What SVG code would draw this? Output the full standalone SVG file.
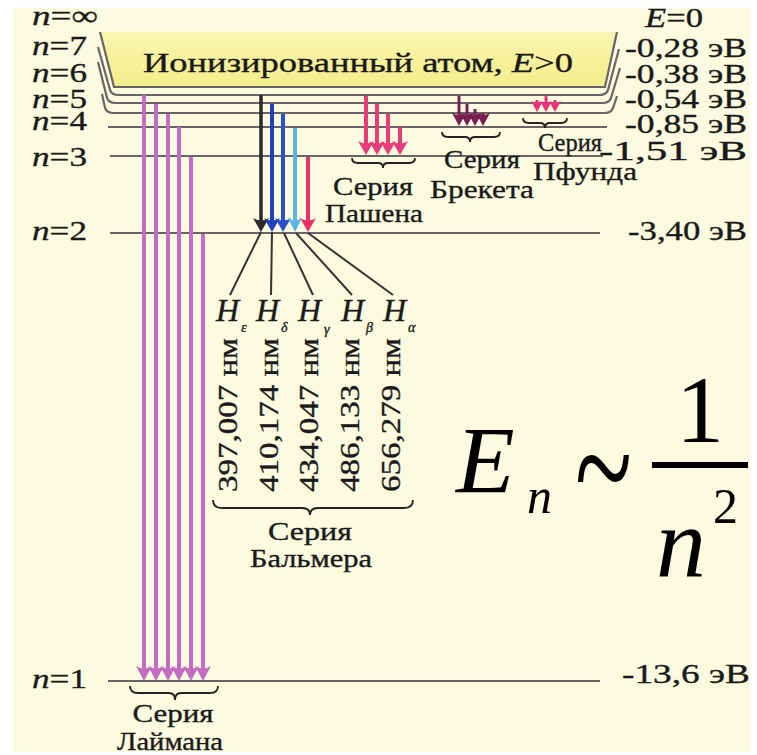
<svg xmlns="http://www.w3.org/2000/svg" width="757" height="755" viewBox="0 0 757 755">
<style>
.t{font-family:"Liberation Serif","Times New Roman",serif;fill:#1a1a1a;stroke:#1a1a1a;stroke-width:0.35}
.lvl{fill:none;stroke:#666;stroke-width:2.2}
.br{fill:none;stroke:#222;stroke-width:1.8}
.ptr{stroke:#333;stroke-width:2;fill:none}
.ly{stroke:#c46cc4;stroke-width:4;fill:none}
</style>
<defs>
<linearGradient id="ban" x1="0" y1="0" x2="0" y2="1">
<stop offset="0" stop-color="#faf6b0"/><stop offset="1" stop-color="#f5ed8a"/>
</linearGradient>
<marker id="mLy" markerUnits="userSpaceOnUse" viewBox="0 0 16 15" refX="8" refY="6" markerWidth="16" markerHeight="15"><path d="M0,0 Q8,5 16,0 L8,15 z" fill="#c46cc4"/></marker>
<marker id="mK" markerUnits="userSpaceOnUse" viewBox="0 0 16 14" refX="8" refY="6" markerWidth="16" markerHeight="14"><path d="M0,0 Q8,5 16,0 L8,14 z" fill="#2a2a2a"/></marker>
<marker id="mB1" markerUnits="userSpaceOnUse" viewBox="0 0 16 14" refX="8" refY="6" markerWidth="16" markerHeight="14"><path d="M0,0 Q8,5 16,0 L8,14 z" fill="#2040c0"/></marker>
<marker id="mB2" markerUnits="userSpaceOnUse" viewBox="0 0 16 14" refX="8" refY="6" markerWidth="16" markerHeight="14"><path d="M0,0 Q8,5 16,0 L8,14 z" fill="#2850c8"/></marker>
<marker id="mLb" markerUnits="userSpaceOnUse" viewBox="0 0 14 14" refX="7" refY="6" markerWidth="14" markerHeight="14"><path d="M0,0 Q7,5 14,0 L7,14 z" fill="#5ab4e6"/></marker>
<marker id="mR" markerUnits="userSpaceOnUse" viewBox="0 0 16 14" refX="8" refY="6" markerWidth="16" markerHeight="14"><path d="M0,0 Q8,5 16,0 L8,14 z" fill="#e8306a"/></marker>
<marker id="mP" markerUnits="userSpaceOnUse" viewBox="0 0 16 14" refX="8" refY="6" markerWidth="16" markerHeight="14"><path d="M0,0 Q8,5 16,0 L8,14 z" fill="#e83c78"/></marker>
<marker id="mBr" markerUnits="userSpaceOnUse" viewBox="0 0 14 13" refX="7" refY="5" markerWidth="14" markerHeight="13"><path d="M0,0 Q7,4 14,0 L7,13 z" fill="#7a2050"/></marker>
<marker id="mPf" markerUnits="userSpaceOnUse" viewBox="0 0 12 11" refX="6" refY="4" markerWidth="12" markerHeight="11"><path d="M0,0 Q6,4 12,0 L6,11 z" fill="#f0307a"/></marker>
</defs>

<rect width="757" height="755" fill="#ffffff"/>
<rect x="13" y="8" width="737" height="744" fill="#fcfbdf"/>

<g id="banner">
<path d="M100,32 H617 L605,87 H114 Z" fill="url(#ban)"/>
<path d="M100,32 L114,87 H605 L617,32" class="lvl"/>
<text class="t" x="143" y="72" font-size="28" textLength="430" lengthAdjust="spacingAndGlyphs">Ионизированный атом, <tspan font-style="italic">E</tspan>&gt;0</text>
</g>

<g id="levels">
<path class="lvl" d="M98,47 L110,90 Q112,95 118,95 H600 Q606,95 608,90 L619,49"/>
<path class="lvl" d="M98,62 L107,98 Q109,103 115,103 H603 Q609,103 611,98 L620,68"/>
<path class="lvl" d="M102,94 L105,108 Q107,113 113,113 H605 Q611,113 613,108 L617,96"/>
<path class="lvl" d="M108,127 H607"/>
<path class="lvl" d="M110,156 H603"/>
<path class="lvl" d="M110,233 H600"/>
<path class="lvl" d="M108,681 H600"/>
</g>

<g id="left-labels" class="t" font-size="28">
<text x="32" y="25" textLength="66" lengthAdjust="spacingAndGlyphs"><tspan font-style="italic">n</tspan>=∞</text>
<text x="32" y="55" textLength="55" lengthAdjust="spacingAndGlyphs"><tspan font-style="italic">n</tspan>=7</text>
<text x="32" y="82" textLength="55" lengthAdjust="spacingAndGlyphs"><tspan font-style="italic">n</tspan>=6</text>
<text x="32" y="108" textLength="55" lengthAdjust="spacingAndGlyphs"><tspan font-style="italic">n</tspan>=5</text>
<text x="32" y="130" textLength="55" lengthAdjust="spacingAndGlyphs"><tspan font-style="italic">n</tspan>=4</text>
<text x="32" y="166" textLength="55" lengthAdjust="spacingAndGlyphs"><tspan font-style="italic">n</tspan>=3</text>
<text x="32" y="240" textLength="55" lengthAdjust="spacingAndGlyphs"><tspan font-style="italic">n</tspan>=2</text>
<text x="32" y="688" textLength="55" lengthAdjust="spacingAndGlyphs"><tspan font-style="italic">n</tspan>=1</text>
</g>

<g id="right-labels" class="t" font-size="28" text-anchor="end">
<text x="703" y="27" textLength="58" lengthAdjust="spacingAndGlyphs"><tspan font-style="italic">E</tspan>=0</text>
<text x="747" y="57" textLength="122" lengthAdjust="spacingAndGlyphs">-0,28 эВ</text>
<text x="747" y="83" textLength="122" lengthAdjust="spacingAndGlyphs">-0,38 эВ</text>
<text x="747" y="108" textLength="122" lengthAdjust="spacingAndGlyphs">-0,54 эВ</text>
<text x="747" y="133" textLength="122" lengthAdjust="spacingAndGlyphs">-0,85 эВ</text>
<text x="747" y="160" textLength="148" lengthAdjust="spacingAndGlyphs">-1,51 эВ</text>
<text x="747" y="240" textLength="119" lengthAdjust="spacingAndGlyphs">-3,40 эВ</text>
<text x="750" y="683" textLength="128" lengthAdjust="spacingAndGlyphs">-13,6 эВ</text>
</g>

<g id="transitions">
<g id="lyman">
<path class="ly" d="M144,95 V672" marker-end="url(#mLy)"/>
<path class="ly" d="M156,104 V672" marker-end="url(#mLy)"/>
<path class="ly" d="M168,114 V672" marker-end="url(#mLy)"/>
<path class="ly" d="M179,127 V672" marker-end="url(#mLy)"/>
<path class="ly" d="M191,157 V672" marker-end="url(#mLy)"/>
<path class="ly" d="M203,234 V672" marker-end="url(#mLy)"/>
</g>
<g id="balmer">
<path d="M261,95 V224" stroke="#2a2a2a" stroke-width="3.5" marker-end="url(#mK)"/>
<path d="M272,104 V224" stroke="#2040c0" stroke-width="4" marker-end="url(#mB1)"/>
<path d="M283,114 V224" stroke="#2850c8" stroke-width="4" marker-end="url(#mB2)"/>
<path d="M295,128 V224" stroke="#5ab4e6" stroke-width="4" marker-end="url(#mLb)"/>
<path d="M308,157 V224" stroke="#e8306a" stroke-width="4" marker-end="url(#mR)"/>
</g>
<g id="paschen" stroke="#e83c78" stroke-width="4">
<path d="M366,96 V147" marker-end="url(#mP)"/>
<path d="M377,104 V147" marker-end="url(#mP)"/>
<path d="M388,114 V147" marker-end="url(#mP)"/>
<path d="M400,127 V147" marker-end="url(#mP)"/>
</g>
<g id="brackett" stroke="#7a2050" stroke-width="3">
<path d="M459,96 V118" marker-end="url(#mBr)"/>
<path d="M467,104 V118" marker-end="url(#mBr)"/>
<path d="M475,109 V118" marker-end="url(#mBr)"/>
<path d="M483,113 V118" marker-end="url(#mBr)"/>
</g>
<g id="pfund" stroke="#f0307a" stroke-width="3">
<path d="M537,100 V105" marker-end="url(#mPf)"/>
<path d="M546,96 V105" marker-end="url(#mPf)"/>
<path d="M555,100 V105" marker-end="url(#mPf)"/>
</g>
<g id="balmer-pointers" class="ptr">
<path d="M261,232 L230,295"/>
<path d="M272,232 L271,295"/>
<path d="M284,233 L313,295"/>
<path d="M296,233 L352,295"/>
<path d="M308,233 L393,295"/>
</g>
</g>

<g id="balmer-names" class="t">
<text x="216" y="321" font-size="32" font-style="italic">H</text><text x="241" y="332" font-size="14" font-style="italic">ε</text>
<text x="256" y="321" font-size="32" font-style="italic">H</text><text x="281" y="332" font-size="14" font-style="italic">δ</text>
<text x="298" y="321" font-size="32" font-style="italic">H</text><text x="324" y="334" font-size="14" font-style="italic">γ</text>
<text x="341" y="321" font-size="32" font-style="italic">H</text><text x="366" y="332" font-size="14" font-style="italic">β</text>
<text x="383" y="321" font-size="32" font-style="italic">H</text><text x="408" y="332" font-size="14" font-style="italic">α</text>
</g>

<g id="wavelengths" class="t" font-size="28">
<text transform="translate(237,492) rotate(-90)" textLength="154" lengthAdjust="spacingAndGlyphs">397,007 нм</text>
<text transform="translate(278,492) rotate(-90)" textLength="154" lengthAdjust="spacingAndGlyphs">410,174 нм</text>
<text transform="translate(318,492) rotate(-90)" textLength="154" lengthAdjust="spacingAndGlyphs">434,047 нм</text>
<text transform="translate(359,492) rotate(-90)" textLength="154" lengthAdjust="spacingAndGlyphs">486,133 нм</text>
<text transform="translate(400,492) rotate(-90)" textLength="154" lengthAdjust="spacingAndGlyphs">656,279 нм</text>
</g>

<g id="braces" class="br">
<path d="M130,686 Q130,693 138,693 H169 Q175,693 175,700 Q175,693 181,693 H210 Q218,693 218,686"/>
<path d="M213,500 Q213,508 222,508 H302 Q310,508 310,515 Q310,508 318,508 H404 Q413,508 413,500"/>
<path d="M352,158 Q352,163 358,163 H378 Q383,163 383,168 Q383,163 388,163 H409 Q415,163 415,158"/>
<path d="M442,132 Q442,137 448,137 H465 Q470,137 470,142 Q470,137 475,137 H494 Q500,137 500,132"/>
<path d="M523,118 Q523,123 529,123 H540 Q545,123 545,128 Q545,123 550,123 H561 Q567,123 567,118"/>
</g>

<g id="series-names" class="t" font-size="26" text-anchor="middle">
<text x="173" y="722" textLength="81" lengthAdjust="spacingAndGlyphs">Серия</text>
<text x="170" y="750" textLength="106" lengthAdjust="spacingAndGlyphs">Лаймана</text>
<text x="310" y="540" textLength="84" lengthAdjust="spacingAndGlyphs">Серия</text>
<text x="311" y="567" textLength="122" lengthAdjust="spacingAndGlyphs">Бальмера</text>
<text x="373" y="195" textLength="80" lengthAdjust="spacingAndGlyphs">Серия</text>
<text x="374" y="222" textLength="98" lengthAdjust="spacingAndGlyphs">Пашена</text>
<text x="482" y="168" textLength="76" lengthAdjust="spacingAndGlyphs">Серия</text>
<text x="482" y="198" textLength="104" lengthAdjust="spacingAndGlyphs">Брекета</text>
<text x="570" y="151" textLength="64" lengthAdjust="spacingAndGlyphs">Серия</text>
<text x="585" y="180" textLength="104" lengthAdjust="spacingAndGlyphs">Пфунда</text>
</g>

<g id="formula" font-family="Liberation Serif,Times New Roman,serif" fill="#000">
<text x="456" y="493" font-size="96" font-style="italic">E</text>
<text x="527" y="513" font-size="50" font-style="italic">n</text>
<text x="575" y="326" font-size="100" transform="scale(1,1.6)" textLength="57" lengthAdjust="spacingAndGlyphs">~</text>
<rect x="652" y="462" width="96" height="6"/>
<text x="700" y="442" font-size="96" text-anchor="middle">1</text>
<text x="656" y="576" font-size="100" font-style="italic">n</text>
<text x="713" y="523" font-size="50">2</text>
</g>
</svg>
